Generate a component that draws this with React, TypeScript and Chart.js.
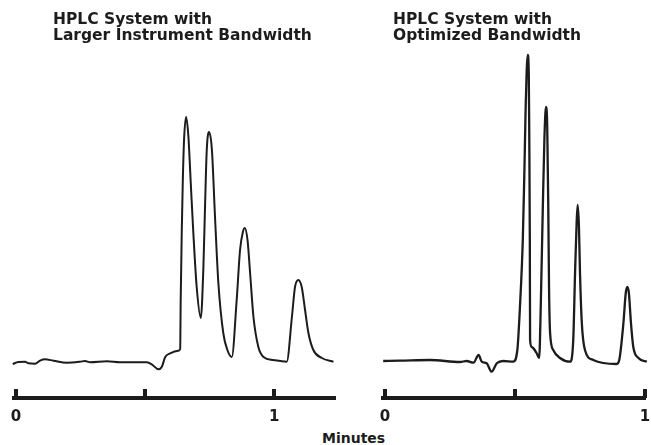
import React, { useEffect, useRef } from "react";
import { Chart, registerables } from "chart.js";

Chart.register(...registerables);

// Left chromatogram: HPLC system with larger instrument bandwidth
const leftTimes = [
  -0.013, 0.009, 0.035, 0.048, 0.074, 0.093, 0.112, 0.145, 0.197, 0.248, 0.267, 0.287,
  0.352, 0.403, 0.507, 0.526, 0.552, 0.565, 0.578, 0.597, 0.629, 0.636, 0.638, 0.642,
  0.646, 0.651, 0.659, 0.668, 0.677, 0.687, 0.7, 0.716, 0.726, 0.733, 0.739, 0.748,
  0.759, 0.771, 0.784, 0.803, 0.819, 0.836, 0.855, 0.868, 0.879, 0.886, 0.897, 0.907,
  0.92, 0.939, 0.959, 0.997, 1.049, 1.069, 1.081, 1.094, 1.107, 1.12, 1.133, 1.152,
  1.185, 1.23,
];
const leftSignal = [
  -2, 0, 0.3, -1.3, -1.7, 1.3, 2.7, 1.3, -0.7, 0.3, 1, -0.3,
  0.7, -0.3, -0.3, -2.3, -7.3, -4.7, 5, 8.7, 11.3, 13, 62, 129,
  179, 222, 245, 225, 179, 129, 75, 44, 95, 162, 212, 230,
  212, 145, 79, 29, 12, 5, 62, 112, 130, 134, 122, 89,
  45, 15, 5, 2, 0.3, 45, 75, 82, 75, 52, 29, 12,
  4, 0.3,
];

// Right chromatogram: HPLC system with optimized bandwidth
const rightTimes = [
  -0.007, 0.058, 0.173, 0.288, 0.314, 0.34, 0.36, 0.372, 0.391, 0.41, 0.43, 0.455,
  0.493, 0.509, 0.519, 0.53, 0.536, 0.541, 0.545, 0.549, 0.553, 0.555, 0.557, 0.558,
  0.564, 0.583, 0.593, 0.599, 0.607, 0.613, 0.619, 0.624, 0.628, 0.631, 0.635, 0.647,
  0.673, 0.712, 0.724, 0.731, 0.737, 0.741, 0.746, 0.75, 0.757, 0.769, 0.801, 0.891,
  0.901, 0.917, 0.926, 0.932, 0.938, 0.946, 0.955, 0.975, 1.007, 1.023,
];
const rightSignal = [
  1, 1.3, 2, 0, 1, -0.7, 7, 0.3, -1.3, -9.7, -1.3, 1,
  0.3, 12, 55, 122, 189, 255, 292, 307, 289, 222, 122, 22,
  15, 9, 4, 55, 155, 222, 255, 235, 155, 72, 29, 12,
  4, 0.3, 22, 89, 139, 157, 135, 89, 39, 12, 2, -2,
  2, 39, 69, 75, 69, 39, 15, 4, 0.3, -0.7,
];

const tickValues = [0, 0.5, 1];
const tickLabels = ["0", "", "1"];
const leftTitle = ["HPLC System with", "Larger Instrument Bandwidth"];
const rightTitle = ["HPLC System with", "Optimized Bandwidth"];
const axisTitle = "Minutes";

const INK = "#1c1c1c";
const FONT = "'DejaVu Sans', sans-serif";

const upTicks = {
  id: "upTicks",
  afterDraw(chart: any) {
    const { ctx, chartArea } = chart;
    const xs = chart.scales.x;
    ctx.save();
    ctx.fillStyle = INK;
    for (const v of tickValues) {
      const px = xs.getPixelForValue(v);
      ctx.fillRect(Math.round(px) - 2, chartArea.bottom - 9, 4, 9);
    }
    ctx.restore();
  },
};

function Trace(props: {
  times: number[];
  signal: number[];
  xMin: number;
  xMax: number;
  width: number;
  padLeft: number;
  padRight: number;
  lineWidth: number;
}) {
  const ref = useRef<HTMLCanvasElement | null>(null);
  useEffect(() => {
    if (!ref.current) return;
    const data = props.times.map((t, i) => ({ x: t, y: props.signal[i] }));
    const chart = new Chart(ref.current, {
      type: "line",
      data: {
        datasets: [
          {
            data,
            borderColor: INK,
            borderWidth: props.lineWidth,
            pointRadius: 0,
            cubicInterpolationMode: "monotone",
            fill: false,
            clip: false as any,
          },
        ],
      },
      options: {
        animation: false,
        responsive: false,
        maintainAspectRatio: false,
        events: [],
        layout: {
          padding: { left: props.padLeft, right: props.padRight, top: 40, bottom: 2 },
        },
        plugins: { legend: { display: false }, tooltip: { enabled: false }, title: { display: false } },
        scales: {
          x: {
            type: "linear",
            min: props.xMin,
            max: props.xMax,
            afterFit: (axis: any) => {
              axis.height = 30;
              axis.paddingLeft = 0;
              axis.paddingRight = 0;
            },
            grid: { display: false, drawTicks: false },
            border: { display: true, width: 4, color: INK },
            ticks: {
              stepSize: 0.5,
              includeBounds: false,
              maxRotation: 0,
              autoSkip: false,
              padding: 10,
              color: INK,
              font: { family: FONT, size: 15, weight: "bold" },
              callback: (v: any) => {
                const i = tickValues.indexOf(Number(v));
                return i >= 0 ? tickLabels[i] : "";
              },
            },
          },
          y: { display: false, min: -36, max: 322 },
        },
      },
      plugins: [upTicks],
    });
    return () => chart.destroy();
  }, []);
  return <canvas ref={ref} width={props.width} height={430} style={{ display: "block" }} />;
}

const titleStyle: React.CSSProperties = {
  position: "absolute",
  fontFamily: FONT,
  fontWeight: "bold",
  fontSize: 15.5,
  lineHeight: "16px",
  color: INK,
  whiteSpace: "nowrap",
};

export default function App() {
  return (
    <div style={{ position: "fixed", left: 0, top: 0, width: 651, height: 445, background: "#fff", overflow: "hidden" }}>
      <div style={{ position: "absolute", left: 0, top: 0, width: 345, height: 430 }}>
        <Trace times={leftTimes} signal={leftSignal} xMin={-0.008} xMax={1.236} width={345} padLeft={14} padRight={10} lineWidth={2} />
      </div>
      <div style={{ position: "absolute", left: 365, top: 0, width: 286, height: 430 }}>
        <Trace times={rightTimes} signal={rightSignal} xMin={-0.0077} xMax={1} width={286} padLeft={18} padRight={6} lineWidth={2.3} />
      </div>
      <div style={{ ...titleStyle, left: 53, top: 11 }}>
        {leftTitle[0]}
        <br />
        {leftTitle[1]}
      </div>
      <div style={{ ...titleStyle, left: 393, top: 11 }}>
        {rightTitle[0]}
        <br />
        {rightTitle[1]}
      </div>
      <div style={{ ...titleStyle, fontSize: 14, left: 322, top: 430 }}>{axisTitle}</div>
    </div>
  );
}
